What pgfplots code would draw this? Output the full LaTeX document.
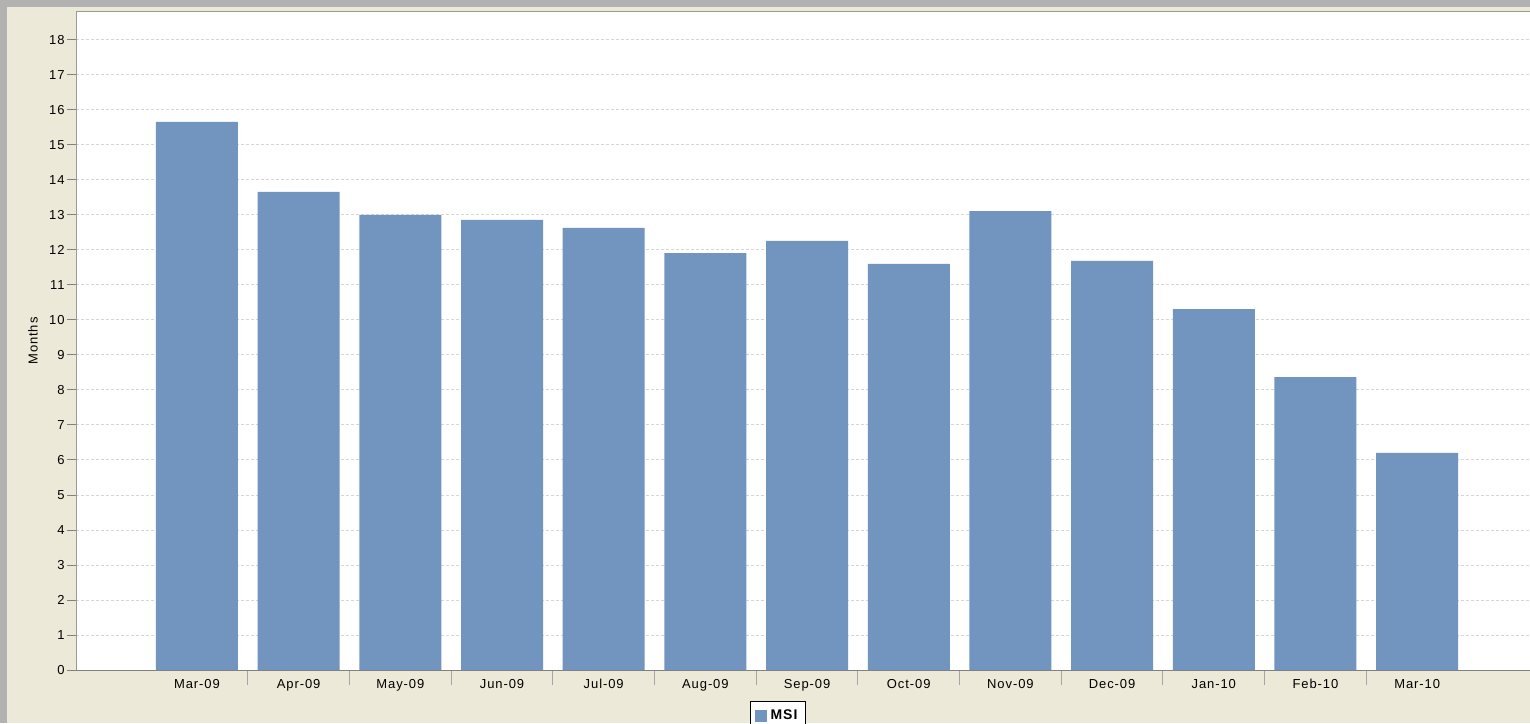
\documentclass[border=0pt]{standalone}
\usepackage{pgfplots}
\pgfplotsset{compat=1.18}
\usepackage{fontspec}
\setmainfont[LetterSpace=7]{Liberation Sans}
\definecolor{bgbeige}{HTML}{ECE9D8}
\definecolor{framec}{HTML}{B2B2B2}
\definecolor{barblue}{HTML}{7295C0}
\definecolor{gridc}{HTML}{D6D6D6}
\begin{document}
\begin{tikzpicture}
\useasboundingbox (0pt,0pt) rectangle (765pt,361.5pt);
\clip (0pt,0pt) rectangle (765pt,361.5pt);
\fill[framec] (0pt,0pt) rectangle (765pt,361.5pt);
\fill[bgbeige] (3.5pt,0pt) rectangle (765pt,358pt);
\begin{axis}[
  at={(38pt,26.5pt)}, anchor=south west,
  width=727pt, height=329pt, scale only axis,
  xmin=-1.19, xmax=13.11, ymin=0, ymax=18.8,
  axis background/.style={fill=white},
  axis line style={draw=none},
  ytick={0,...,18},
  xtick={0,...,12},
  xticklabels={Mar-09,Apr-09,May-09,Jun-09,Jul-09,Aug-09,Sep-09,Oct-09,Nov-09,Dec-09,Jan-10,Feb-10,Mar-10},
  minor xtick={0.5,1.5,...,11.5},
  major x tick style={draw=none},
  minor x tick style={draw=gray!70, line width=0.5pt},
  minor tick length=7.5pt,
  major tick length=4.5pt,
  y tick style={draw=gray, line width=0.5pt},
  tick align=outside,
  ytick pos=left, xtick pos=bottom,
  ymajorgrids, xmajorgrids=false,
  grid style={gridc, dash pattern=on 1.5pt off 1pt, line width=0.5pt},
  tick label style={font=\fontsize{6.5}{7}\selectfont},
  /pgf/number format/assume math mode=true,
  yticklabel style={inner sep=1pt},
  xticklabel style={inner sep=1pt, yshift=4.5pt, text height=1.5ex, text depth=0.2ex},
  ylabel={Months},
  every axis y label/.style={at={(axis description cs:0,0.5)}, xshift=-21.5pt, rotate=90, anchor=center, font=\fontsize{6.5}{7}\selectfont},
  legend style={at={(axis description cs:0.4828,-0.0471)}, anchor=north, draw=black, line width=0.75pt, fill=white, font=\bfseries\fontsize{7}{8}\selectfont, inner sep=2pt, legend cell align=left},
  legend image code/.code={\fill[barblue] (0pt,-3pt) rectangle (6pt,3pt);},
]
\addplot[ybar, fill=barblue, draw=none, bar width=41pt] coordinates {
(0,15.66) (1,13.66) (2,13.0) (3,12.86) (4,12.63) (5,11.91) (6,12.26)
(7,11.6) (8,13.11) (9,11.69) (10,10.31) (11,8.37) (12,6.2)};
\addlegendentry{MSI}
\draw[gray!80, line width=0.5pt] (rel axis cs:0,0) -- (rel axis cs:0,1) -- (rel axis cs:1,1);
\draw[gray, line width=0.5pt] (rel axis cs:0,0) -- (rel axis cs:1,0);
\end{axis}
\end{tikzpicture}
\end{document}
